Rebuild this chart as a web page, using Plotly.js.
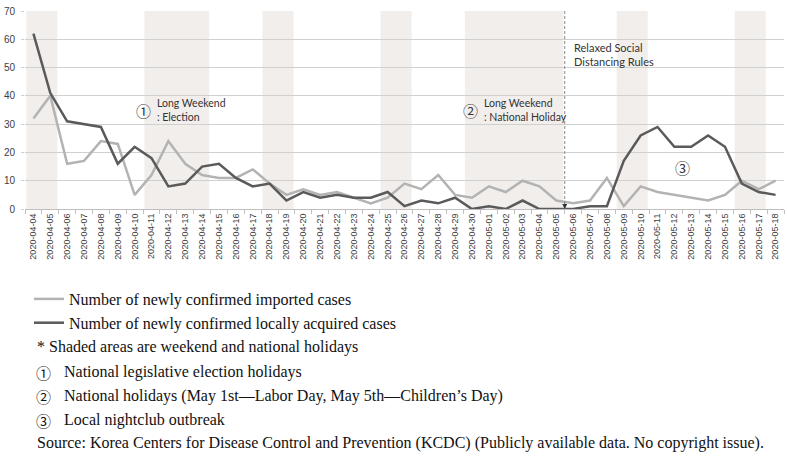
<!DOCTYPE html>
<html>
<head>
<meta charset="utf-8">
<script src="https://cdn.plot.ly/plotly-3.0.1.min.js"></script>
<style>html,body{margin:0;padding:0;background:#fff;}#chart{width:787px;height:456px;}</style>
</head>
<body>
<div id="chart"></div>
<script>
const dates = ["2020-04-04","2020-04-05","2020-04-06","2020-04-07","2020-04-08","2020-04-09","2020-04-10","2020-04-11","2020-04-12","2020-04-13","2020-04-14","2020-04-15","2020-04-16","2020-04-17","2020-04-18","2020-04-19","2020-04-20","2020-04-21","2020-04-22","2020-04-23","2020-04-24","2020-04-25","2020-04-26","2020-04-27","2020-04-28","2020-04-29","2020-04-30","2020-05-01","2020-05-02","2020-05-03","2020-05-04","2020-05-05","2020-05-06","2020-05-07","2020-05-08","2020-05-09","2020-05-10","2020-05-11","2020-05-12","2020-05-13","2020-05-14","2020-05-15","2020-05-16","2020-05-17","2020-05-18"];
const importedCases = [32,40,16,17,24,23,5,12,24,16,12,11,11,14,9,5,7,5,6,4,2,4,9,7,12,5,4,8,6,10,8,3,2,3,11,1,8,6,5,4,3,5,10,7,10];
const localCases = [62,41,31,30,29,16,22,18,8,9,15,16,11,8,9,3,6,4,5,4,4,6,1,3,2,4,0,1,0,3,0,0,0,1,1,17,26,29,22,22,26,22,9,6,5];
const holidayStart = ["2020-04-04","2020-04-11","2020-04-18","2020-04-25","2020-04-30","2020-05-09","2020-05-16"];
const holidayEnd   = ["2020-04-05","2020-04-14","2020-04-19","2020-04-26","2020-05-05","2020-05-10","2020-05-17"];
const relaxDate = "2020-05-06";
const seriesNames = ["Number of newly confirmed imported cases","Number of newly confirmed locally acquired cases"];
const noteLines = ["* Shaded areas are weekend and national holidays","National legislative election holidays","National holidays (May 1st\u2014Labor Day, May 5th\u2014Children\u2019s Day)","Local nightclub outbreak","Source: Korea Centers for Disease Control and Prevention (KCDC) (Publicly available data. No copyright issue)."];

const idx = d => dates.indexOf(d);
const shapes = holidayStart.map((s,i)=>({
  type:'rect', xref:'x', yref:'paper', layer:'below',
  x0: idx(s)-0.42, x1: idx(holidayEnd[i])+0.42, y0:0, y1:1,
  fillcolor:'#f2eeec', line:{width:0}
}));
const relaxX = idx(relaxDate)-0.5;
shapes.push({type:'line', xref:'x', yref:'paper', x0:relaxX, x1:relaxX, y0:0, y1:1, line:{color:'#8a8a8a', width:1, dash:'3px,2px'}});

const serif = "Liberation Serif, Noto Sans CJK JP, serif";
const circ = "Noto Sans CJK JP, DejaVu Sans, sans-serif";
const lab = {family:"Lato, sans-serif", size:10.5, color:'#333'};
const py = px => (209-px)/198;
const pxx = px => (px-25)/759;
const fs = 16;

const annotations = [
  {x:6.5, y:35, xref:'x', yref:'y', text:'\u2460', showarrow:false, font:{family:circ, size:15, color:'#333'}},
  {x:7.2, y:35, xref:'x', yref:'y', text:'Long Weekend<br>: Election', showarrow:false, xanchor:'left', align:'left', font:lab},
  {x:25.9, y:35, xref:'x', yref:'y', text:'\u2461', showarrow:false, font:{family:circ, size:15, color:'#333'}},
  {x:26.6, y:35, xref:'x', yref:'y', text:'Long Weekend<br>: National Holiday', showarrow:false, xanchor:'left', align:'left', font:lab},
  {x:relaxX+0.45, y:54.5, xref:'x', yref:'y', text:'Relaxed Social<br>Distancing Rules', showarrow:false, xanchor:'left', align:'left', font:{family:"Lato, sans-serif", size:11, color:'#333'}},
  {x:38.5, y:14.8, xref:'x', yref:'y', text:'\u2462', showarrow:false, font:{family:circ, size:15, color:'#333'}},
  {x:relaxX, y:0, xref:'x', yref:'y', text:'', showarrow:true, ax:0, ay:-7, arrowhead:2, arrowsize:1, arrowwidth:1, arrowcolor:'#333'},
  {x:pxx(35), y:py(347), xref:'paper', yref:'paper', text:noteLines[0], showarrow:false, xanchor:'left', yanchor:'middle', font:{family:serif, size:fs, color:'#111'}},
  {x:pxx(34), y:py(372), xref:'paper', yref:'paper', text:'\u2460', showarrow:false, xanchor:'left', yanchor:'middle', font:{family:circ, size:15, color:'#111'}},
  {x:pxx(62), y:py(372), xref:'paper', yref:'paper', text:noteLines[1], showarrow:false, xanchor:'left', yanchor:'middle', font:{family:serif, size:fs, color:'#111'}},
  {x:pxx(34), y:py(396), xref:'paper', yref:'paper', text:'\u2461', showarrow:false, xanchor:'left', yanchor:'middle', font:{family:circ, size:15, color:'#111'}},
  {x:pxx(62), y:py(396), xref:'paper', yref:'paper', text:noteLines[2], showarrow:false, xanchor:'left', yanchor:'middle', font:{family:serif, size:fs, color:'#111'}},
  {x:pxx(34), y:py(420), xref:'paper', yref:'paper', text:'\u2462', showarrow:false, xanchor:'left', yanchor:'middle', font:{family:circ, size:15, color:'#111'}},
  {x:pxx(62), y:py(420), xref:'paper', yref:'paper', text:noteLines[3], showarrow:false, xanchor:'left', yanchor:'middle', font:{family:serif, size:fs, color:'#111'}},
  {x:pxx(35), y:py(443), xref:'paper', yref:'paper', text:noteLines[4], showarrow:false, xanchor:'left', yanchor:'middle', font:{family:serif, size:fs, color:'#111'}}
];

const traces = [
  {x:dates, y:importedCases, type:'scatter', mode:'lines', name:seriesNames[0], line:{color:'#b3b3b3', width:2.5}},
  {x:dates, y:localCases, type:'scatter', mode:'lines', name:seriesNames[1], line:{color:'#5a5a5a', width:2.5}}
];

const layout = {
  width:787, height:456,
  margin:{l:25, r:3, t:11, b:247, pad:0},
  paper_bgcolor:'#fff', plot_bgcolor:'#fff',
  showlegend:true,
  legend:{x:pxx(29), y:py(282), xanchor:'left', yanchor:'top', font:{family:serif, size:fs, color:'#111'}, bgcolor:'rgba(0,0,0,0)', itemwidth:30, tracegroupgap:0},
  xaxis:{type:'category', categoryorder:'array', categoryarray:dates, range:[-0.5, dates.length-0.5], automargin:false,
    tickangle:-90, tickfont:{family:"Liberation Sans, sans-serif", size:9, color:'#404040'},
    ticks:'outside', tickson:'boundaries', ticklen:4, tickcolor:'#bfbfbf', showline:true, linecolor:'#bfbfbf', linewidth:1,
    showgrid:false, zeroline:false, fixedrange:true},
  yaxis:{range:[0,70], dtick:10, automargin:false, tickfont:{family:"Liberation Sans, sans-serif", size:10, color:'#404040'},
    showgrid:true, gridcolor:'#d0d0d0', gridwidth:1, ticks:'outside', ticklen:3, tickcolor:'#d0d0d0',
    ticklabelstandoff:4, showline:false, zeroline:false, fixedrange:true},
  shapes:shapes,
  annotations:annotations
};
Plotly.newPlot('chart', traces, layout, {displayModeBar:false, staticPlot:true});
</script>
</body>
</html>
